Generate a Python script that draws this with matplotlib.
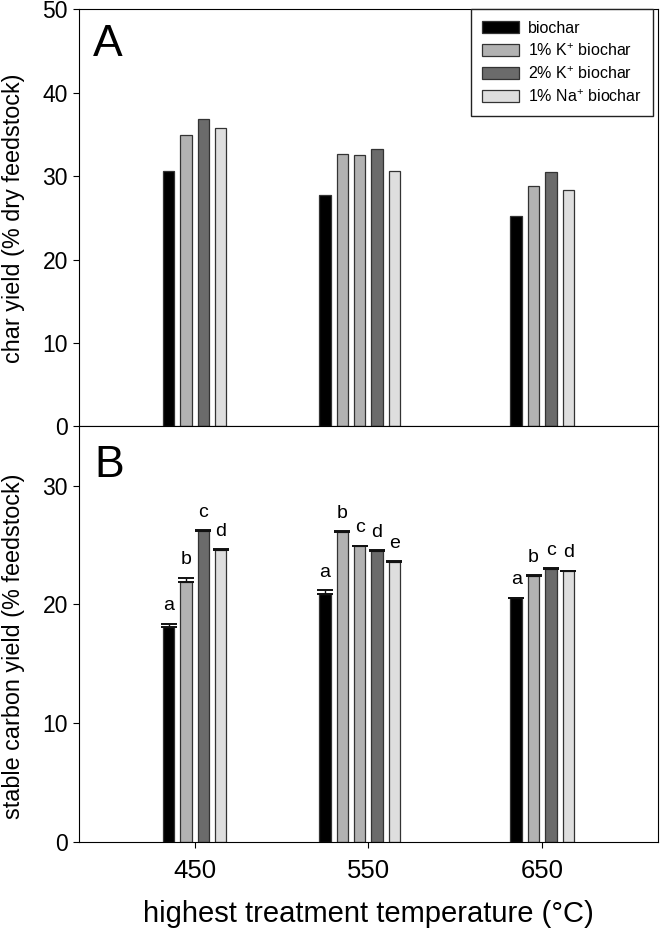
import numpy as np
import matplotlib
matplotlib.use("Agg")
import matplotlib.pyplot as plt
from matplotlib.patches import Patch

plt.rcParams['font.family'] = ['Liberation Sans', 'DejaVu Sans']
plt.rcParams['mathtext.fontset'] = 'custom'
plt.rcParams['mathtext.rm'] = 'Liberation Sans'
plt.rcParams['mathtext.it'] = 'Liberation Sans'

# ==========================
# Datos
# ==========================

temps = [450, 550, 650]
treatments = ['biochar', '1% K$^{+}$ biochar', '2% K$^{+}$ biochar', '1% Na$^{+}$ biochar']
treat_colors = ['#000000', '#b2b2b2', '#6b6b6b', '#dedede']

# una barra por entrada (a 550 hay dos barras de 1% K+)
bar_temp = [450, 450, 450, 450, 550, 550, 550, 550, 550, 650, 650, 650, 650]
bar_treat = [0, 1, 2, 3, 0, 1, 1, 2, 3, 0, 1, 2, 3]

char_yield = [30.6, 35.0, 36.9, 35.8, 27.7, 32.7, 32.6, 33.3, 30.6, 25.2, 28.8, 30.5, 28.4]

stable_c = [18.1, 21.9, 26.2, 24.6, 20.9, 26.1, 24.9, 24.5, 23.6, 20.5, 22.4, 23.0, 22.8]
stable_err = [0.25, 0.35, 0.05, 0.05, 0.3, 0.05, 0.05, 0.05, 0.05, 0.05, 0.05, 0.05, 0.05]
letters = ['a', 'b', 'c', 'd', 'a', 'b', 'c', 'd', 'e', 'a', 'b', 'c', 'd']

# ==========================
# Posiciones de las barras
# ==========================

bar_x = []
for t in temps:
    idx = [i for i, bt in enumerate(bar_temp) if bt == t]
    n = len(idx)
    for k in range(n):
        bar_x.append(t + 10 * (k - (n - 1)) + 15)
bar_x = np.array(bar_x)
colors = [treat_colors[j] for j in bar_treat]
width = 6.6

fig = plt.figure(figsize=(6.6, 9.39), dpi=100)
axA = fig.add_axes([0.1197, 0.5458, 0.877, 0.4441])
axB = fig.add_axes([0.1197, 0.1038, 0.877, 0.4420])

for ax in (axA, axB):
    ax.set_xlim(383.5, 716.5)
    ax.set_xticks(temps)
    ax.tick_params(direction='out', length=4.5, width=0.8)
    for s in ax.spines.values():
        s.set_linewidth(0.8)

# Panel A
axA.bar(bar_x, char_yield, width=width, color=colors, edgecolor='#333333', linewidth=0.9)
axA.set_ylim(0, 50)
axA.set_yticks([0, 10, 20, 30, 40, 50])
axA.tick_params(axis='y', labelsize=16.5)
axA.set_xticklabels([])
axA.set_ylabel("char yield (% dry feedstock)", fontsize=16.8)
axA.yaxis.set_label_coords(-0.094, 0.5)
axA.text(0.05, 0.917, "A", transform=axA.transAxes, fontsize=32, ha='center', va='center')

handles = [Patch(facecolor=c, edgecolor='#333333', linewidth=0.9) for c in treat_colors]
leg = axA.legend(handles, treatments, loc='upper right', bbox_to_anchor=(0.992, 1.0),
                 borderaxespad=0, fontsize=11.5, handlelength=2.3, handleheight=0.75,
                 fancybox=False, edgecolor='#222222', framealpha=1, labelspacing=0.4,
                 borderpad=0.7, handletextpad=0.6)
leg.get_frame().set_linewidth(1.0)

# Panel B
axB.bar(bar_x, stable_c, width=width, color=colors, edgecolor='#333333', linewidth=0.9)
axB.errorbar(bar_x, stable_c, yerr=[np.zeros(len(stable_err)), stable_err], fmt='none',
             ecolor='#111111', elinewidth=1.0, capsize=5.5, capthick=1.4)
for x, y, e, l in zip(bar_x, stable_c, stable_err, letters):
    axB.text(x, y + e + 0.8, l, ha='center', va='bottom', fontsize=14)
axB.set_ylim(0, 35)
axB.set_yticks([0, 10, 20, 30])
axB.tick_params(axis='y', labelsize=16.5)
axB.tick_params(axis='x', labelsize=18.5, pad=8)
axB.set_ylabel("stable carbon yield (% feedstock)", fontsize=16.8)
axB.yaxis.set_label_coords(-0.094, 0.47)
axB.set_xlabel("highest treatment temperature (°C)", fontsize=21, labelpad=12)
axB.text(0.052, 0.907, "B", transform=axB.transAxes, fontsize=32, ha='center', va='center')

fig.savefig("out.png", dpi=100)
